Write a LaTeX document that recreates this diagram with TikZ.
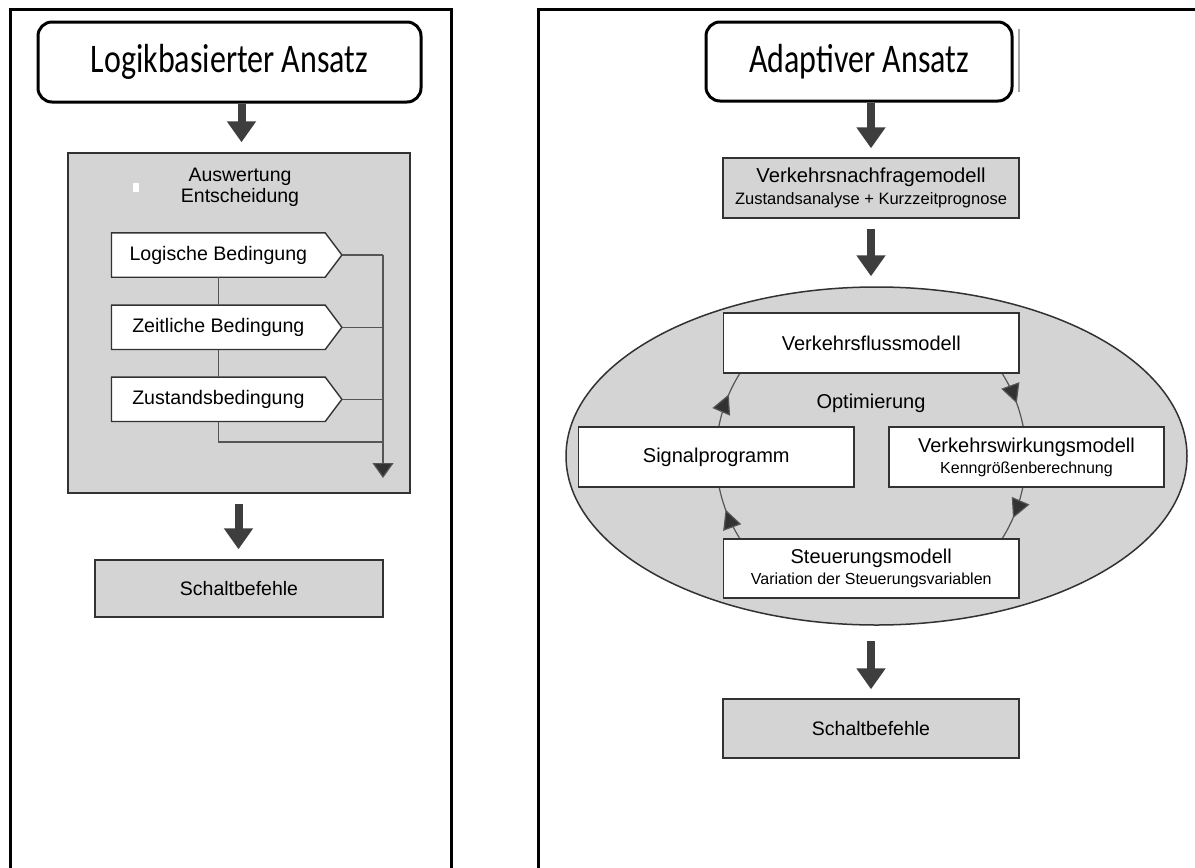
\documentclass[tikz,border=0pt]{standalone}
\usepackage{fontspec}
\usepackage{graphicx}
\setmainfont{Liberation Sans}
\newfontfamily\hdfont{Carlito}
\usetikzlibrary{arrows.meta,shapes.geometric,decorations.markings,calc}

\definecolor{panelgray}{RGB}{212,212,212}
\definecolor{edgegray}{RGB}{50,50,50}
\definecolor{arrowgray}{RGB}{62,62,62}
\definecolor{linegray}{RGB}{85,85,85}

\tikzset{
  frame/.style={line width=3pt, draw=black},
  header/.style={draw=black, line width=3pt, rounded corners=14pt, fill=white,
    inner sep=0pt, font=\hdfont\fontsize{32}{36}\selectfont},
  graybox/.style={draw=edgegray, line width=1.5pt, fill=panelgray, inner sep=0pt,
    align=center, font=\fontsize{19.5}{23}\selectfont},
  whitebox/.style={draw=edgegray, line width=1.5pt, fill=white, inner sep=0pt,
    align=center, font=\fontsize{20}{22}\selectfont},
  cond/.style={fill=white, inner sep=0pt, minimum width=213.3pt, minimum height=44pt,
    font=\fontsize{19.6}{22}\selectfont},
  condedge/.style={draw=edgegray, line width=1.4pt, line join=miter},
  bigarrow/.style={line width=8pt, draw=arrowgray,
    -{Triangle[length=21pt,width=28pt,fill=arrowgray]}},
  thinline/.style={draw=linegray, line width=1.2pt},
  ringline/.style={draw=linegray, line width=1.2pt,
    postaction={decorate},
    decoration={markings, mark=at position 0.58 with
      {\arrow{Triangle[length=19pt,width=19pt,fill=edgegray]}}}},
}

\begin{document}
\begin{tikzpicture}[x=1pt, y=-1pt]
\useasboundingbox (0,0) rectangle (1195,868);
\clip (0,0) rectangle (1195,868);
\fill[white] (0,0) rectangle (1195,868);

% ---------- panel frames (open at the bottom) ----------
\draw[frame] (10.5,880) -- (10.5,9.5) -- (451.5,9.5) -- (451.5,880);
\draw[frame] (538.5,880) -- (538.5,9.5) -- (1210,9.5);

% =============== left panel: logic based approach ===============
\node[header, minimum width=383pt, minimum height=80pt] (hL) at (229.5,62)
  {\scalebox{1}[1.27]{Logikbasierter Ansatz}};

\node[graybox, minimum width=342pt, minimum height=340pt] (eval) at (239,323) {};
\node[inner sep=0pt, align=center, font=\fontsize{19.5}{21}\selectfont] (evaltxt)
  at (240,187) {Auswertung\\Entscheidung};
\node[fill=white, minimum width=6pt, minimum height=9pt, inner sep=0pt] (mark)
  at (136,187.5) {};

\node[cond] (c1) at (218.35,255) {Logische Bedingung};
\node[cond] (c2) at (218.35,327.3) {Zeitliche Bedingung};
\node[cond] (c3) at (218.35,399.3) {Zustandsbedingung};

\foreach \n in {c1,c2,c3} {
  \coordinate (\n-tip) at ([xshift=16.7pt]\n.east);
  \fill[white] (\n.north east) -- (\n-tip) -- (\n.south east) -- cycle;
  \draw[condedge] (\n.north west) -- (\n.north east) -- (\n-tip)
    -- (\n.south east) -- (\n.south west) -- cycle;
}

% collecting bus on the right
\coordinate (busT) at (383,255);
\coordinate (busB) at (383,478);
\coordinate (loopC) at (218.35,442);
\draw[thinline] (c1-tip) -- (busT);
\draw[thinline] (c2-tip) -- (c2-tip -| busT);
\draw[thinline] (c3-tip) -- (c3-tip -| busT);
\draw[thinline, -{Triangle[length=15pt,width=21pt,fill=edgegray]}] (busT) -- (busB);
\draw[thinline] (c1.south) -- (c2.north);
\draw[thinline] (c2.south) -- (c3.north);
\draw[thinline] (c3.south) -- (loopC) -- (loopC -| busT);

\node[graybox, minimum width=288pt, minimum height=57pt] (cmdL) at (239,588.5)
  {Schaltbefehle};

\draw[bigarrow] ([xshift=12pt]hL.south) -- ([xshift=2.5pt,yshift=10pt]eval.north);
\draw[bigarrow] ([xshift=-0.5pt,yshift=-10pt]eval.south)
  -- ([xshift=-0.5pt,yshift=10pt]cmdL.north);

% =============== right panel: adaptive approach ===============
\node[header, minimum width=306pt, minimum height=79pt] (hR) at (859,61.5)
  {\scalebox{1}[1.27]{Adaptiver Ansatz}};
\draw[line width=2pt, draw=black!35] ([xshift=5pt,yshift=-8pt]hR.north east)
  -- ([xshift=5pt,yshift=11pt]hR.south east);

\node[graybox, minimum width=296pt, minimum height=60pt] (demand) at (871,188)
  {{\fontsize{20.2}{18}\selectfont Verkehrsnachfragemodell}\\[-1pt]
   {\fontsize{16.5}{18}\selectfont Zustandsanalyse + Kurzzeitprognose}};

\node[ellipse, draw=edgegray, line width=1.5pt, fill=panelgray,
  minimum width=621pt, minimum height=338pt, inner sep=0pt] (ring) at (876.5,456) {};

% optimisation cycle
\coordinate (rc) at (871,456);
\draw[ringline] ($(rc)+(191:155)$) arc[start angle=191, end angle=212.4, radius=155];
\draw[ringline] ($(rc)+(327.6:155)$) arc[start angle=327.6, end angle=349.2, radius=155];
\draw[ringline] ($(rc)+(11.5:155)$) arc[start angle=11.5, end angle=32.4, radius=155];
\draw[ringline] ($(rc)+(147.6:155)$) arc[start angle=147.6, end angle=168.5, radius=155];

\node[whitebox, minimum width=295.5pt, minimum height=60pt] (flow) at (871.25,343)
  {Verkehrsflussmodell};
\node[whitebox, minimum width=275.4pt, minimum height=60pt] (signal) at (716.3,457)
  {Signalprogramm};
\node[whitebox, minimum width=275pt, minimum height=60pt] (impact) at (1026.5,457)
  {Verkehrswirkungsmodell\\[-1pt]{\fontsize{16}{18}\selectfont Kenngrößenberechnung}};
\node[whitebox, minimum width=295.5pt, minimum height=59pt] (control) at (871.25,568.5)
  {Steuerungsmodell\\[-1pt]{\fontsize{16}{18}\selectfont Variation der Steuerungsvariablen}};
\node[inner sep=0pt, font=\fontsize{20}{22}\selectfont] (opt) at (871,403) {Optimierung};

\node[graybox, minimum width=296pt, minimum height=59pt] (cmdR) at (871,728.5)
  {Schaltbefehle};

\draw[bigarrow] ([xshift=12pt]hR.south) -- ([yshift=9pt]demand.north);
\draw[bigarrow] ([yshift=-10pt]demand.south)
  -- ([xshift=-5.5pt,yshift=10pt]ring.north);
\draw[bigarrow] ([xshift=-5.5pt,yshift=-15pt]ring.south) -- ([yshift=9pt]cmdR.north);
\end{tikzpicture}
\end{document}
